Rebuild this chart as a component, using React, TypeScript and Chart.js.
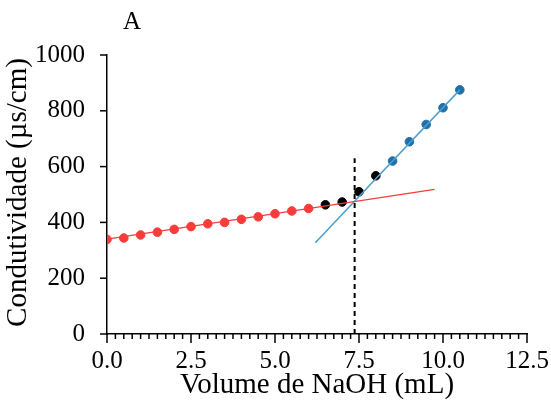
import React, { useEffect, useRef } from "react";
import { Chart, registerables } from "chart.js";

Chart.register(...registerables);

const redX = [0, 0.5, 1.0, 1.5, 2.0, 2.5, 3.0, 3.5, 4.0, 4.5, 5.0, 5.5, 6.0];
const redY = [339, 344, 355, 365, 375, 385, 395, 400, 411, 420, 431, 441, 450];
const blackX = [6.5, 7.0, 7.5, 8.0];
const blackY = [463, 473, 510, 567];
const blueX = [8.5, 9.0, 9.5, 10.0, 10.5];
const blueY = [620, 689, 751, 811, 875];
const redFitX = [0, 9.75];
const redFitY = [340, 518];
const blueFitX = [6.2, 10.5];
const blueFitY = [327, 875];
const equivX = 7.37;
const equivTop = 630;
const xTickStep = 2.5;
const xMinorStep = 0.25;
const yTickStep = 200;
const xTitle = "Volume de NaOH (mL)";
const yTitle = "Condutividade (µs/cm)";
const panelLabel = "A";

const RED = "#f83c3c";
const BLUE_PT = "#1f6fa8";
const BLUE_LINE = "#4b9fcf";
const FONT = "'Liberation Serif', 'DejaVu Serif', serif";

const pts = (xs: number[], ys: number[]) => xs.map((x, i) => ({ x, y: ys[i] }));

export default function App() {
  const ref = useRef<HTMLCanvasElement | null>(null);
  useEffect(() => {
    document.body.style.margin = "0";
    const ctx = ref.current!.getContext("2d")!;
    const axisTicks = {
      id: "axisTicks",
      afterDraw(chart: any) {
        const xs = chart.scales.x;
        const ys = chart.scales.y;
        const ca = chart.chartArea;
        const c = chart.ctx;
        c.save();
        c.setLineDash([]);
        c.strokeStyle = "#000";
        c.lineWidth = 1.5;
        const n = Math.round((xs.max - xs.min) / xMinorStep);
        const every = Math.round(xTickStep / xMinorStep);
        for (let i = 0; i <= n; i++) {
          const px = xs.getPixelForValue(xs.min + i * xMinorStep);
          const len = i % every === 0 ? 9 : 5;
          c.beginPath();
          c.moveTo(px, ca.bottom);
          c.lineTo(px, ca.bottom + len);
          c.stroke();
        }
        ys.ticks.forEach((t: any) => {
          const py = ys.getPixelForValue(t.value);
          c.beginPath();
          c.moveTo(ca.left, py);
          c.lineTo(ca.left - 7, py);
          c.stroke();
        });
        c.fillStyle = "#000";
        c.font = `25px ${FONT}`;
        c.textAlign = "center";
        c.textBaseline = "middle";
        c.fillText(panelLabel, ca.left + 25, 22);
        c.save();
        c.translate(26, (ca.top + ca.bottom) / 2 - 2);
        c.rotate(-Math.PI / 2);
        c.textBaseline = "alphabetic";
        c.font = `29px ${FONT}`;
        c.fillText(yTitle, 0, 0);
        c.restore();
        c.restore();
      },
    };
    const chart = new Chart(ctx, {
      type: "scatter",
      data: {
        datasets: [
          {
            type: "line",
            data: pts([equivX, equivX], [0, equivTop]),
            borderColor: "#000",
            borderWidth: 2,
            borderDash: [5, 4],
            pointRadius: 0,
            fill: false,
          } as any,
          { type: "line", data: pts(redFitX, redFitY), borderColor: RED, borderWidth: 1.3, pointRadius: 0, fill: false },
          { type: "line", data: pts(blueFitX, blueFitY), borderColor: BLUE_LINE, borderWidth: 1.5, pointRadius: 0, fill: false },
          { data: pts(redX, redY), backgroundColor: RED, borderColor: RED, pointRadius: 4.3 },
          { data: pts(blackX, blackY), backgroundColor: "#000", borderColor: "#000", pointRadius: 4.3 },
          { data: pts(blueX, blueY), backgroundColor: BLUE_PT, borderColor: BLUE_PT, pointRadius: 4.3 },
        ],
      },
      options: {
        animation: false,
        responsive: false,
        layout: { padding: { top: 55, right: 24, left: 0, bottom: 0 } },
        plugins: { legend: { display: false }, tooltip: { enabled: false } },
        scales: {
          x: {
            type: "linear",
            min: 0,
            max: 12.5,
            afterFit: (s: any) => {
              s.height = 70;
              s.paddingLeft = 0;
              s.paddingRight = 0;
            },
            ticks: {
              stepSize: xTickStep,
              color: "#000",
              font: { family: FONT, size: 25 },
              padding: 4,
              maxRotation: 0,
              callback: (v: any) => Number(v).toFixed(1),
            },
            grid: { display: false },
            border: { display: true, color: "#000", width: 1.5 },
            title: { display: true, text: xTitle, color: "#000", font: { family: FONT, size: 29 }, padding: { top: 1, bottom: 1 } },
          },
          y: {
            min: 0,
            max: 1000,
            afterFit: (s: any) => {
              s.width = 107;
            },
            ticks: { stepSize: yTickStep, color: "#000", font: { family: FONT, size: 25 }, padding: 14, callback: (v: any) => String(v) },
            grid: { display: false },
            border: { display: true, color: "#000", width: 1.5 },
            title: { display: false, text: yTitle },
          },
        },
      },
      plugins: [axisTicks],
    });
    return () => chart.destroy();
  }, []);
  return (
    <div style={{ width: 551, height: 404 }}>
      <canvas ref={ref} width={551} height={404} style={{ display: "block" }} />
    </div>
  );
}
